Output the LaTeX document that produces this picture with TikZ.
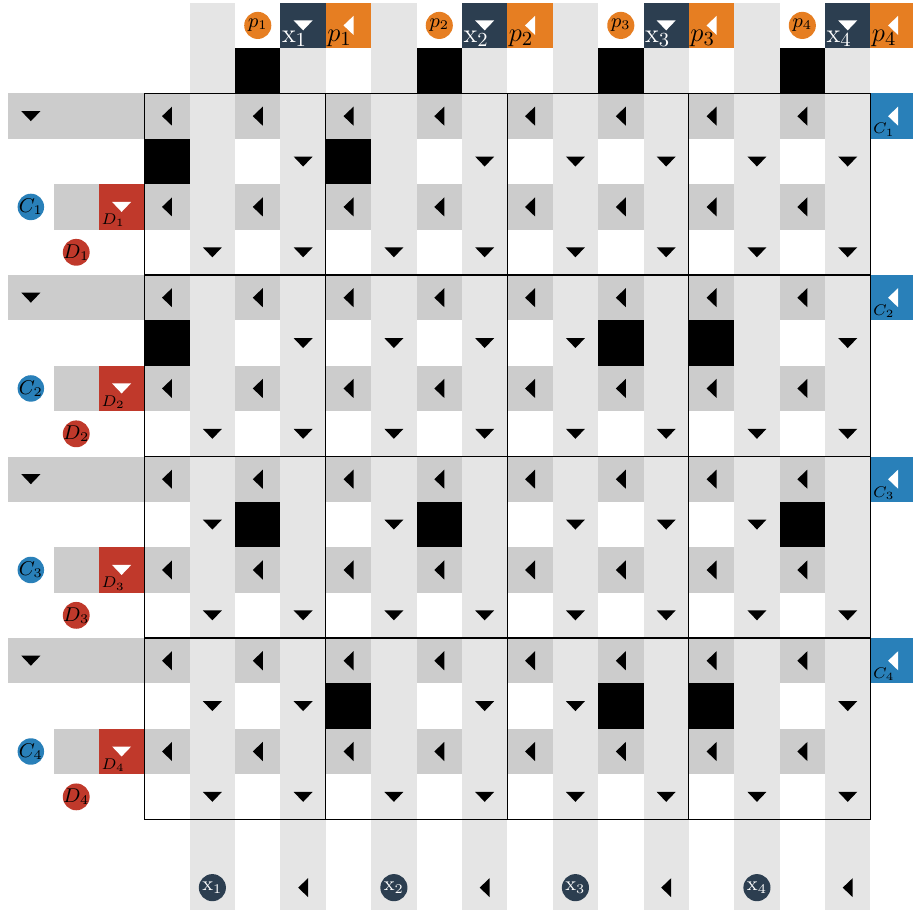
\documentclass[tikz,border=0pt]{standalone}
\usetikzlibrary{shapes.geometric}
\definecolor{navy}{HTML}{2C3E50}
\definecolor{carrot}{HTML}{E67E22}
\definecolor{pome}{HTML}{C0392B}
\definecolor{belize}{HTML}{2980B9}
\tikzset{
  hband/.style={fill=gray!40},
  vband/.style={fill=gray!20},
  gridline/.style={line width=.5pt},
  lit/.style={circle,inner sep=0pt,minimum size=4.3mm,font=\small},
  litbig/.style={circle,inner sep=-.6pt,minimum size=4.2mm,font=\small},
  celltag/.style={anchor=south west,inner sep=1pt},
  headtag/.style={anchor=south west,inner sep=.5pt,font=\fontsize{13pt}{15pt}\selectfont}
}
\newcommand{\arrdn}[3][black]{\fill[#1] (#2,#3) ++(-.21,.11) -- ++(.42,0) -- ++(-.21,-.22) -- cycle;}
\newcommand{\arrlt}[3][black]{\fill[#1] (#2,#3) ++(.11,.21) -- ++(0,-.42) -- ++(-.22,.21) -- cycle;}

\begin{document}
\begin{tikzpicture}[x=7.2mm,y=7.2mm]
  \useasboundingbox (-3.68,2.56) rectangle (16.43,-17.625);

  \foreach \k in {1,...,4} {
    \fill[hband] (-3.5,-4*\k+4.5) rectangle (15.5,-4*\k+3.5);
    \fill[hband] (-2.5,-4*\k+2.5) rectangle (15.5,-4*\k+1.5);
  }
  \foreach \c in {1,3,...,15}
    \fill[vband] (\c-.5,2.5) rectangle (\c+.5,-17.5);

  \foreach \c/\r in {0/1,4/1,0/5,10/5,12/5,2/9,6/9,14/9,4/13,10/13,12/13}
    \fill (\c-.5,-\r+.5) rectangle ++(1,-1);

  \foreach \k in {1,...,4} {
    \fill[navy] (4*\k-1.5,2.5) rectangle ++(1,-1);
    \fill[carrot] (4*\k-.5,2.5) rectangle ++(1,-1);
    \fill (4*\k-2.5,1.5) rectangle ++(1,-1);
    \fill[pome] (-1.5,-4*\k+2.5) rectangle ++(1,-1);
    \fill[belize] (15.5,-4*\k+4.5) rectangle ++(1,-1);
    \arrdn[white]{4*\k-1}{2}
    \arrlt[white]{4*\k}{2}
    \arrdn[white]{-1}{-4*\k+2}
    \arrlt[white]{16}{-4*\k+4}
    \arrdn{-3}{-4*\k+4}
    \arrlt{4*\k-1}{-17}
    \node[lit,fill=carrot] (p\k) at (4*\k-2,2) {$p_\k$};
    \node[headtag,text=white] (xl\k) at (4*\k-1.5,1.5) {$\mathrm{x}_\k$};
    \node[headtag] (pl\k) at (4*\k-.5,1.5) {$p_\k$};
    \node[lit,fill=navy,text=white] (x\k) at (4*\k-3,-17) {$\mathrm{x}_\k$};
    \node[litbig,fill=belize] (c\k) at (-3,-4*\k+2) {$C_\k$};
    \node[litbig,fill=pome] (d\k) at (-2,-4*\k+1) {$D_\k$};
    \node[celltag,font=\scriptsize] (dl\k) at (-1.5,-4*\k+1.5) {$D_\k$};
    \node[celltag,font=\scriptsize] (cl\k) at (15.5,-4*\k+3.5) {$C_\k$};
  }

  \foreach \r in {0,2,...,14} {
    \foreach \c in {0,2,...,14} {
      \arrlt{\c}{-\r}
    }
  }
  \foreach \r/\cols in {1/{3,7,9,11,13,15},5/{3,5,7,9,15},9/{1,5,9,11,13},13/{1,3,7,9,15},
                        3/{1,3,...,15},7/{1,3,...,15},11/{1,3,...,15},15/{1,3,...,15}} {
    \foreach \c in \cols {
      \arrdn{\c}{-\r}
    }
  }

  \draw[gridline] (-.5,.5) rectangle (15.5,-15.5);
  \foreach \t in {3.5,7.5,11.5} {
    \draw[gridline] (\t,.5) -- (\t,-15.5);
    \draw[gridline] (-.5,-\t) -- (15.5,-\t);
  }
\end{tikzpicture}
\end{document}
